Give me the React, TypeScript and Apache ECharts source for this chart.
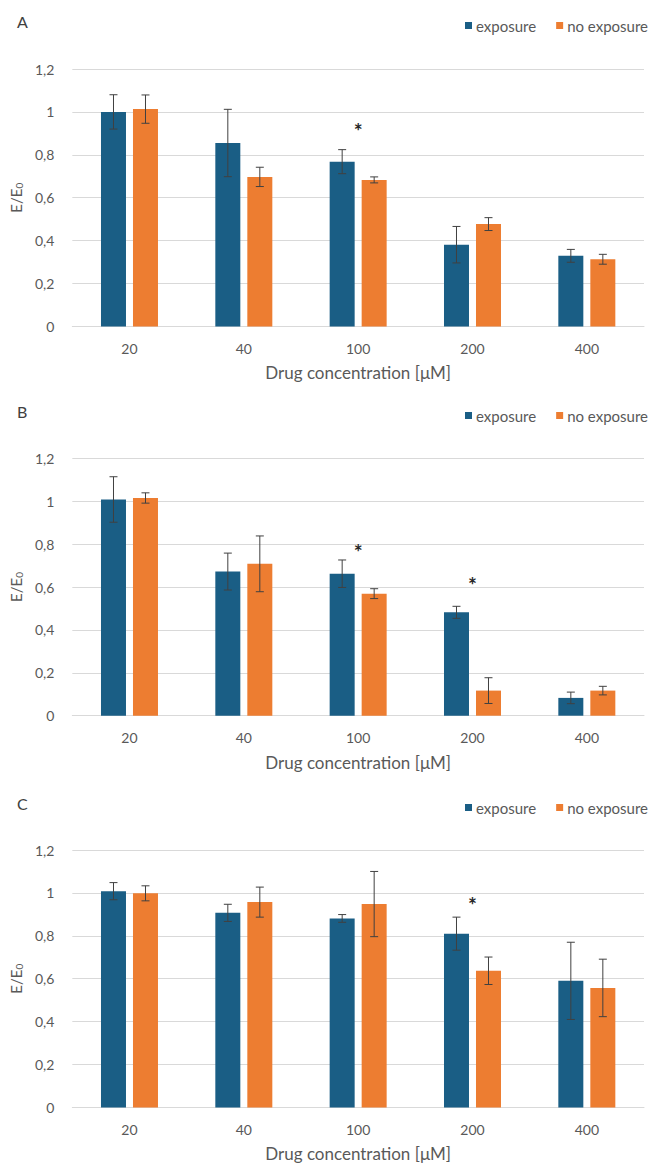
import React, { useEffect, useRef } from "react";
import * as echarts from "echarts";

const categories = ["20", "40", "100", "200", "400"];
const yTicks = { min: 0, max: 1.2, interval: 0.2 };
const seriesNames = ["exposure", "no exposure"];
const panelLetters = ["A", "B", "C"];

const aExposure = [1.0, 0.855, 0.768, 0.381, 0.329];
const aExposureErr = [0.08, 0.157, 0.056, 0.085, 0.03];
const aNoExposure = [1.013, 0.697, 0.683, 0.477, 0.313];
const aNoExposureErr = [0.066, 0.045, 0.014, 0.03, 0.023];
const aStars = [null, null, 0.915, null, null];

const bExposure = [1.008, 0.672, 0.662, 0.482, 0.083];
const bExposureErr = [0.106, 0.086, 0.064, 0.028, 0.027];
const bNoExposure = [1.015, 0.708, 0.569, 0.117, 0.117];
const bNoExposureErr = [0.024, 0.13, 0.023, 0.06, 0.02];
const bStars = [null, null, 0.765, 0.613, null];

const cExposure = [1.008, 0.907, 0.881, 0.81, 0.59];
const cExposureErr = [0.04, 0.04, 0.018, 0.077, 0.18];
const cNoExposure = [0.998, 0.957, 0.948, 0.637, 0.557];
const cNoExposureErr = [0.035, 0.07, 0.152, 0.064, 0.134];
const cStars = [null, null, null, 0.944, null];

const panels = [
  { exp: aExposure, expErr: aExposureErr, no: aNoExposure, noErr: aNoExposureErr, stars: aStars },
  { exp: bExposure, expErr: bExposureErr, no: bNoExposure, noErr: bNoExposureErr, stars: bStars },
  { exp: cExposure, expErr: cExposureErr, no: cNoExposure, noErr: cNoExposureErr, stars: cStars },
];

const BLUE = "#1A5E85";
const ORANGE = "#ED7D31";
const TEXT = "#595959";
const GRID = "#D9D9D9";
const FONT = "Lato, 'Open Sans', sans-serif";
const BAR_W = 25;
const BAR_GAP = 7;

const gridTops = [69, 458.3, 850];
const gridHeight = 257.4;
const panelTops = [22, 412, 804];

export default function App() {
  const ref = useRef<HTMLDivElement>(null);
  useEffect(() => {
    if (!ref.current) return;
    const chart = echarts.init(ref.current, undefined, { renderer: "svg" });

    const grids: any[] = [];
    const xAxes: any[] = [];
    const yAxes: any[] = [];
    const series: any[] = [];
    const legends: any[] = [];
    const graphics: any[] = [];

    panels.forEach((p, i) => {
      grids.push({ left: 66, right: 11, top: gridTops[i], height: gridHeight });
      xAxes.push({
        type: "category",
        gridIndex: i,
        data: categories,
        axisTick: { show: false },
        axisLine: { lineStyle: { color: GRID, width: 1 } },
        axisLabel: { color: TEXT, fontSize: 14, fontFamily: FONT, margin: 15 },
        name: "Drug concentration [μM]",
        nameLocation: "middle",
        nameGap: 38,
        nameTextStyle: { color: TEXT, fontSize: 17, fontFamily: FONT },
      });
      yAxes.push({
        type: "value",
        gridIndex: i,
        min: yTicks.min,
        max: yTicks.max,
        interval: yTicks.interval,
        axisLine: { show: false },
        axisTick: { show: false },
        splitLine: { lineStyle: { color: GRID, width: 1 } },
        axisLabel: {
          color: TEXT,
          fontSize: 14,
          fontFamily: FONT,
          margin: 18,
          formatter: (v: number) => String(Math.round(v * 10) / 10).replace(".", ","),
        },
        name: "{a|E/E}{b|0}",
        nameLocation: "middle",
        nameRotate: 90,
        nameGap: 45,
        nameTextStyle: {
          color: TEXT,
          fontFamily: FONT,
          rich: {
            a: { fontSize: 15, color: TEXT, fontFamily: FONT },
            b: { fontSize: 10, color: TEXT, fontFamily: FONT, padding: [7, 0, 0, 0] },
          },
        },
      });

      const barCommon = {
        type: "bar",
        xAxisIndex: i,
        yAxisIndex: i,
        barWidth: BAR_W,
        barGap: (BAR_GAP / BAR_W) * 100 + "%",
      };
      series.push({ ...barCommon, name: seriesNames[0], data: p.exp, itemStyle: { color: BLUE } });
      series.push({ ...barCommon, name: seriesNames[1], data: p.no, itemStyle: { color: ORANGE } });

      const errData: any[] = [];
      p.exp.forEach((v, k) => errData.push([k, v, p.expErr[k], -1]));
      p.no.forEach((v, k) => errData.push([k, v, p.noErr[k], 1]));
      series.push({
        type: "custom",
        xAxisIndex: i,
        yAxisIndex: i,
        z: 10,
        silent: true,
        data: errData,
        renderItem: (params: any, api: any) => {
          const k = api.value(0);
          const v = api.value(1);
          const e = api.value(2);
          const sign = api.value(3);
          const c = api.coord([k, v]);
          const hi = api.coord([k, v + e]);
          const lo = api.coord([k, v - e]);
          const x = c[0] + sign * (BAR_W + BAR_GAP) / 2;
          const cap = 4;
          const st = { stroke: "#404040", lineWidth: 1 };
          return {
            type: "group",
            children: [
              { type: "line", shape: { x1: x, y1: hi[1], x2: x, y2: lo[1] }, style: st },
              { type: "line", shape: { x1: x - cap, y1: hi[1], x2: x + cap, y2: hi[1] }, style: st },
              { type: "line", shape: { x1: x - cap, y1: lo[1], x2: x + cap, y2: lo[1] }, style: st },
            ],
          };
        },
      });

      const starData: any[] = [];
      p.stars.forEach((s, k) => {
        if (s != null) starData.push([k, s]);
      });
      series.push({
        type: "custom",
        xAxisIndex: i,
        yAxisIndex: i,
        z: 11,
        silent: true,
        data: starData,
        renderItem: (params: any, api: any) => {
          const c = api.coord([api.value(0), api.value(1)]);
          return {
            type: "text",
            x: c[0],
            y: c[1],
            style: {
              text: "*",
              fill: "#262626",
              font: "bold 21px " + FONT,
              textAlign: "center",
              textVerticalAlign: "middle",
            },
          };
        },
      });

      legends.push({
        data: seriesNames,
        right: 2,
        top: panelTops[i] - 9,
        icon: "rect",
        itemWidth: 7,
        itemHeight: 7,
        itemGap: 20,
        textStyle: { color: TEXT, fontSize: 15, fontFamily: FONT, padding: [0, 0, 0, -1] },
      });

      graphics.push({
        type: "text",
        left: 17,
        top: panelTops[i] - 9,
        style: { text: panelLetters[i], fill: "#404040", font: "16px " + FONT },
      });
    });

    chart.setOption({
      animation: false,
      backgroundColor: "#ffffff",
      grid: grids,
      xAxis: xAxes,
      yAxis: yAxes,
      series,
      legend: legends,
      graphic: graphics,
    });
    return () => chart.dispose();
  }, []);

  return (
    <div
      ref={ref}
      style={{ position: "absolute", left: 0, top: 0, width: 655, height: 1164 }}
    />
  );
}
